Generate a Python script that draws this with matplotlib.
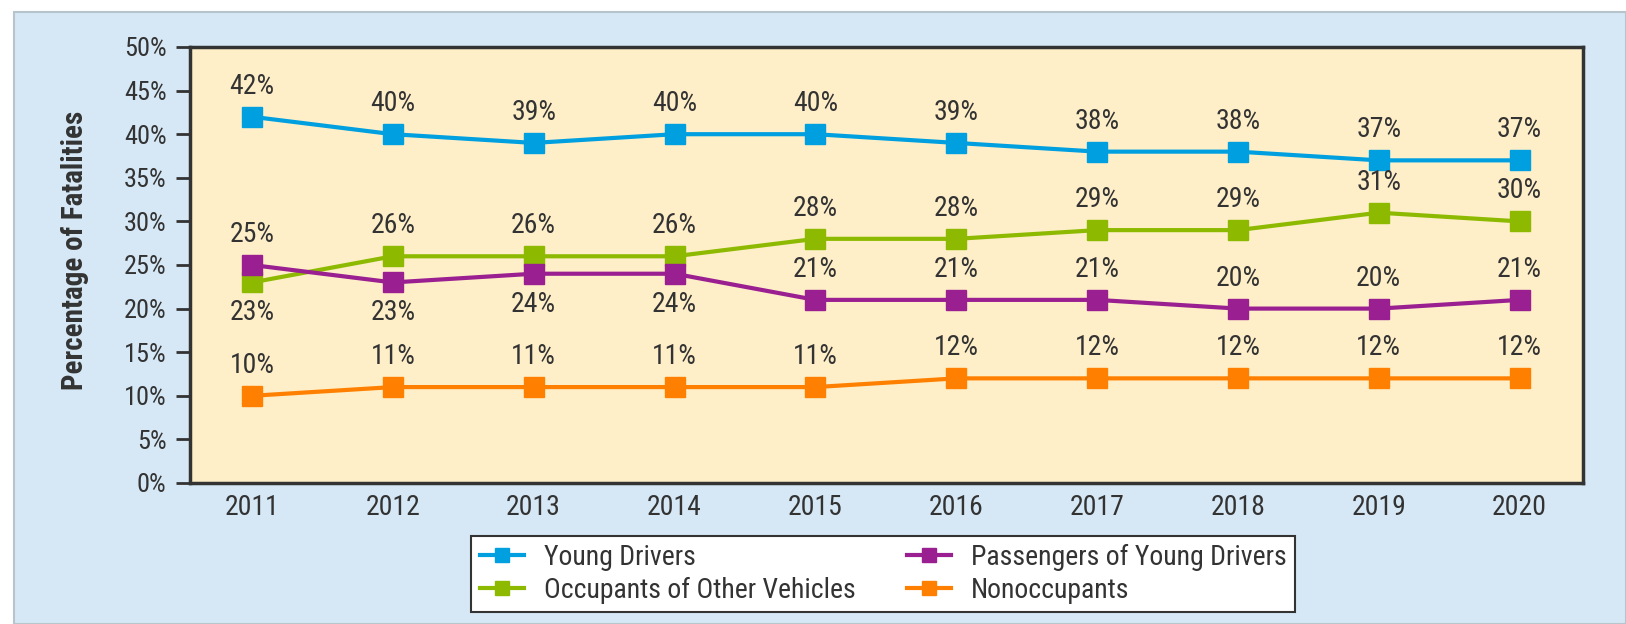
import matplotlib
matplotlib.use("Agg")
import matplotlib.pyplot as plt
from matplotlib.patches import Rectangle
from matplotlib.ticker import PercentFormatter

years = [2011, 2012, 2013, 2014, 2015, 2016, 2017, 2018, 2019, 2020]
young_drivers = [42, 40, 39, 40, 40, 39, 38, 38, 37, 37]
other_vehicles = [23, 26, 26, 26, 28, 28, 29, 29, 31, 30]
passengers = [25, 23, 24, 24, 21, 21, 21, 20, 20, 21]
nonoccupants = [10, 11, 11, 11, 11, 12, 12, 12, 12, 12]

series = [
    ("Young Drivers", young_drivers, "#00A0E0"),
    ("Occupants of Other Vehicles", other_vehicles, "#8DBA00"),
    ("Passengers of Young Drivers", passengers, "#9A1F91"),
    ("Nonoccupants", nonoccupants, "#FF8000"),
]
# label placement: +1 above, -1 below
placement = {
    "Young Drivers": [1] * 10,
    "Occupants of Other Vehicles": [-1] + [1] * 9,
    "Passengers of Young Drivers": [1, -1, -1, -1, 1, 1, 1, 1, 1, 1],
    "Nonoccupants": [1] * 10,
}

FONT = ["Roboto Condensed", "Liberation Sans", "DejaVu Sans"]
plt.rcParams["font.family"] = FONT
TXT = "#333333"
FS = 20

fig = plt.figure(figsize=(16.26, 6.24), dpi=100, facecolor="white")
bg = Rectangle((14 / 1626, 0), 1 - 14 / 1626, 1 - 12 / 624,
               transform=fig.transFigure, facecolor="#D6E8F5",
               edgecolor="#B8C4CC", linewidth=1.5, zorder=-10)
fig.patches.append(bg)

ax = fig.add_axes([190 / 1626, 141 / 624, 1393 / 1626, 436 / 624])
ax.set_facecolor("#FEEFC8")

for name, vals, col in series:
    ax.plot(years, vals, color=col, lw=3, marker="s", ms=14, mec=col,
            mfc=col, label=name, clip_on=False, zorder=3)
    for x, v, p in zip(years, vals, placement[name]):
        ax.annotate(f"{v}%", (x, v), xytext=(0, 22 * p), textcoords="offset points",
                    ha="center", va="center", fontsize=FS, color=TXT)

ax.set_xlim(2010.56, 2020.45)
ax.set_ylim(0, 50)
ax.set_xticks(years)
ax.set_yticks(range(0, 51, 5))
ax.yaxis.set_major_formatter(PercentFormatter(decimals=0))
ax.tick_params(axis="y", direction="out", length=10, width=2, color="#333333",
               labelsize=19, labelcolor=TXT, pad=7)
ax.tick_params(axis="x", length=0, labelsize=FS, labelcolor=TXT, pad=8)
for s in ax.spines.values():
    s.set_color("#333333")
    s.set_linewidth(2.5)
ax.set_ylabel("Percentage of Fatalities", fontsize=21, fontweight="bold",
              color=TXT)
ax.yaxis.set_label_coords(-0.0725, 0.534)

h, l = ax.get_legend_handles_labels()
leg = fig.legend(h, l, ncol=2, loc="center", bbox_to_anchor=(883 / 1626, 50 / 624),
                 fontsize=FS, frameon=True, fancybox=False, handlelength=1.6,
                 columnspacing=1.85, labelspacing=0.22, handletextpad=0.7,
                 borderpad=0.3, markerscale=0.7, framealpha=1, facecolor="white")
leg.get_frame().set_edgecolor("#333333")
leg.get_frame().set_linewidth(1.5)
for t in leg.get_texts():
    t.set_color(TXT)

fig.savefig("out.png", dpi=100, facecolor=fig.get_facecolor())
